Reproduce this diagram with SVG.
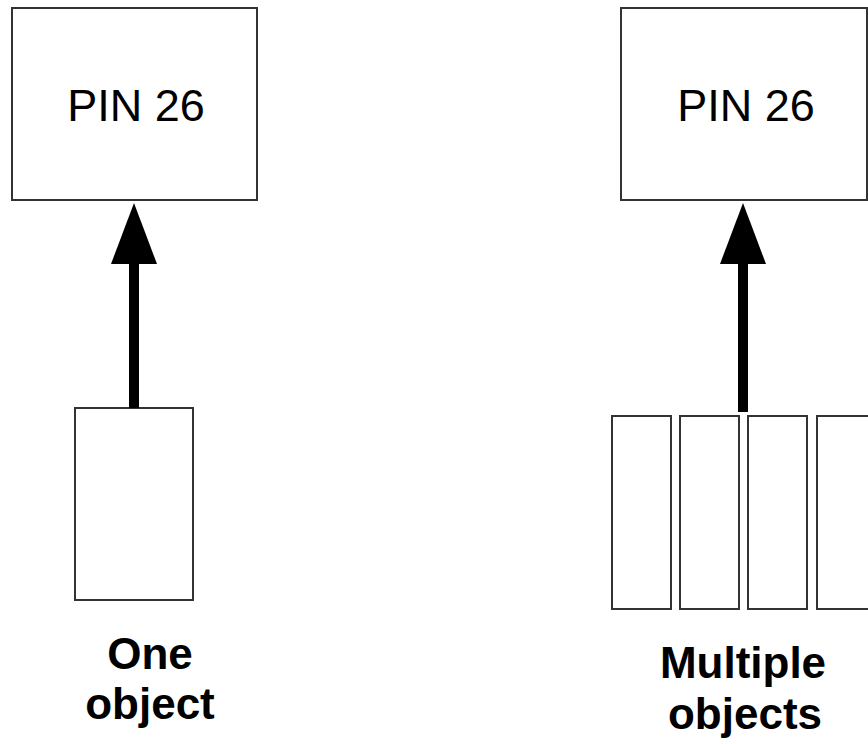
<svg xmlns="http://www.w3.org/2000/svg" width="868" height="744" viewBox="0 0 868 744">
<defs>
<style>
.box{fill:#fff;stroke:#333;stroke-width:2}
.pin{font-family:"Liberation Sans",Arial,sans-serif;font-size:45px;fill:#000;text-anchor:middle}
.lbl{font-family:"Liberation Sans",Arial,sans-serif;font-size:44px;font-weight:bold;fill:#000;text-anchor:middle}
.shaft{stroke:#000;stroke-width:10;fill:none}
.head{fill:#000}
</style>
</defs>
<rect width="868" height="744" fill="#fff"/>
<g id="pin-left">
<rect class="box" x="12" y="8" width="245" height="192"/>
<text class="pin" x="136" y="121">PIN 26</text>
</g>
<g id="pin-right">
<rect class="box" x="621" y="8" width="246" height="192"/>
<text class="pin" x="746" y="121">PIN 26</text>
</g>
<g id="one-object">
<rect class="box" x="75" y="408" width="118" height="192"/>
<text class="lbl" x="150" y="669">One</text>
<text class="lbl" x="150" y="719">object</text>
</g>
<g id="multiple-objects">
<rect class="box" x="612" y="416" width="59" height="193"/>
<rect class="box" x="680" y="416" width="59" height="193"/>
<rect class="box" x="748" y="416" width="59" height="193"/>
<rect class="box" x="817" y="416" width="59" height="193"/>
<text class="lbl" x="743" y="678">Multiple</text>
<text class="lbl" x="745" y="729">objects</text>
</g>
<g id="connectors">
<line class="shaft" x1="134" y1="408" x2="134" y2="262"/>
<polygon class="head" points="134,203 111,264 157,264"/>
<line class="shaft" x1="743" y1="412" x2="743" y2="262"/>
<polygon class="head" points="743,203 720,264 766,264"/>
</g>
</svg>
